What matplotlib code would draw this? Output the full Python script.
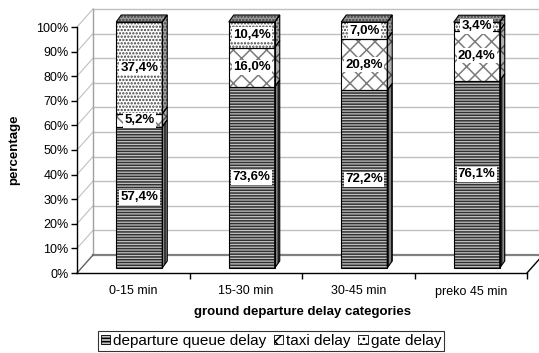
import matplotlib
matplotlib.use("Agg")
import matplotlib.pyplot as plt
from matplotlib.patches import Polygon, Patch
import numpy as np

plt.rcParams['font.family'] = ['Liberation Sans', 'DejaVu Sans']
plt.rcParams['hatch.linewidth'] = 1.1

categories = ["0-15 min", "15-30 min", "30-45 min", "preko 45 min"]
series_names = ["departure queue delay", "taxi delay", "gate delay"]
queue_delay = [57.4, 73.6, 72.2, 76.1]
taxi_delay = [5.2, 16.0, 20.8, 20.4]
gate_delay = [37.4, 10.4, 7.0, 3.4]
yticks = [0, 10, 20, 30, 40, 50, 60, 70, 80, 90, 100]

W, H = 539, 353
fig = plt.figure(figsize=(W / 100, H / 100), dpi=100)
ax = fig.add_axes([77 / W, (H - 273) / H, 450 / W, 246 / H])
ax.set_xlim(-0.5, 3.5)
ax.set_ylim(0, 100)

# pixel -> data conversion for the pseudo-3D offsets
PX_X = 450 / 4.0   # pixels per category
PX_Y = 246 / 100.0  # pixels per percent


def off(dx_px, dy_px):
    return dx_px / PX_X, dy_px / PX_Y


# back wall and floor
bx, by = off(16, 18)
grid_c = "#c0c0c0"
for v in yticks[1:]:
    ax.plot([-0.5 + bx, 3.5 + bx + 0.2], [v + by, v + by], color=grid_c, lw=1.0,
            clip_on=False, zorder=0)
    ax.plot([-0.5, -0.5 + bx], [v, v + by], color=grid_c, lw=0.8,
            clip_on=False, zorder=0)
ax.plot([-0.5 + bx, -0.5 + bx], [by, 100 + by], color="#a0a0a0", lw=1.0,
        clip_on=False, zorder=0)
ax.plot([-0.5 + bx, 3.5 + bx + 0.2], [by, by], color="#808080", lw=1.6,
        clip_on=False, zorder=0)
ax.plot([-0.5, -0.5 + bx], [0, by], color="#606060", lw=1.0, clip_on=False, zorder=0)
ax.plot([3.5, 3.5 + bx], [0, by], color="black", lw=1.0, clip_on=False, zorder=0)

# bars
fx, fy = off(6, 5)         # front face shift
dx, dy = off(5, 7)         # bar depth
width = 46 / PX_X
x = np.arange(len(categories))

front_styles = [
    dict(face="#c4c4c4", hc="#303030", hatch="------"),
    dict(face="white", hc="#7a7a7a", hatch="xx"),
    dict(face="white", hc="#404040", hatch="....."),
]
side_styles = [
    dict(face="#8a8a8a", hc="#202020", hatch="|||||"),
    dict(face="#b0b0b0", hc="#505050", hatch="xx"),
    dict(face="#a8a8a8", hc="#404040", hatch="....."),
]
top_style = dict(face="#9a9a9a", hc="#404040", hatch=".....")

series = [queue_delay, taxi_delay, gate_delay]
bottoms = np.zeros(len(categories))
for j, vals in enumerate(series):
    vals = np.asarray(vals)
    st = front_styles[j]
    ss = side_styles[j]
    for i in range(len(categories)):
        b = bottoms[i]
        t = b + vals[i]
        xl = x[i] - width / 2 + fx
        xr = x[i] + width / 2 + fx
        yb = b + fy
        yt = t + fy
        front = [(xl, yb), (xr, yb), (xr, yt), (xl, yt)]
        side = [(xr, yb), (xr + dx, yb + dy), (xr + dx, yt + dy), (xr, yt)]
        for poly, s in ((front, st), (side, ss)):
            ax.add_patch(Polygon(poly, closed=True, facecolor=s["face"],
                                 edgecolor=s["hc"], hatch=s["hatch"], lw=0,
                                 clip_on=False, zorder=2))
            ax.add_patch(Polygon(poly, closed=True, facecolor="none",
                                 edgecolor="black", lw=0.8, clip_on=False, zorder=3))
        if j == len(series) - 1:
            top = [(xl, yt), (xr, yt), (xr + dx, yt + dy), (xl + dx, yt + dy)]
            ax.add_patch(Polygon(top, closed=True, facecolor=top_style["face"],
                                 edgecolor=top_style["hc"], hatch=top_style["hatch"],
                                 lw=0, clip_on=False, zorder=2))
            ax.add_patch(Polygon(top, closed=True, facecolor="none",
                                 edgecolor="black", lw=0.8, clip_on=False, zorder=3))
        label = f"{vals[i]:.1f}%".replace(".", ",")
        ax.text(x[i] + fx, b + vals[i] / 2 + fy, label, ha="center", va="center",
                fontsize=9.5, fontweight="bold", zorder=5,
                bbox=dict(boxstyle="square,pad=0.1", facecolor="white",
                          edgecolor="none"))
    bottoms += vals

# axes
for s in ["top", "right"]:
    ax.spines[s].set_visible(False)
ax.spines["left"].set_linewidth(1.0)
ax.spines["bottom"].set_linewidth(1.0)
ax.set_yticks(yticks)
ax.set_yticklabels([f"{v}%" for v in yticks], fontsize=9)
ax.tick_params(axis="y", direction="out", length=4, width=1, pad=2)
ax.set_xticks([0.5, 1.5, 2.5, 3.5])
ax.set_xticklabels([])
ax.set_xticks(x, minor=True)
ax.set_xticklabels(categories, minor=True, fontsize=9)
ax.tick_params(axis="x", which="major", direction="out", length=4, width=1)
ax.tick_params(axis="x", which="minor", length=0, pad=9)
ax.patch.set_visible(False)

ax.set_xlabel("ground departure delay categories", fontsize=9.5, fontweight="bold",
              labelpad=6)
ax.set_ylabel("percentage", fontsize=9.5, fontweight="bold", labelpad=12)

handles = [Patch(facecolor=front_styles[k]["face"], edgecolor="black",
                 hatch=["-----", "xx", "..."][k], lw=0.6) for k in range(3)]
leg = fig.legend(handles, series_names, loc="center", bbox_to_anchor=(271 / W, 1 - 341 / H),
                 ncol=3, fontsize=11, frameon=True, fancybox=False, edgecolor="black",
                 handlelength=0.6, handleheight=0.6, handletextpad=0.2,
                 columnspacing=0.5, borderpad=0.2, borderaxespad=0)
leg.get_frame().set_linewidth(0.8)

fig.savefig("out.png", dpi=100, facecolor="white")
